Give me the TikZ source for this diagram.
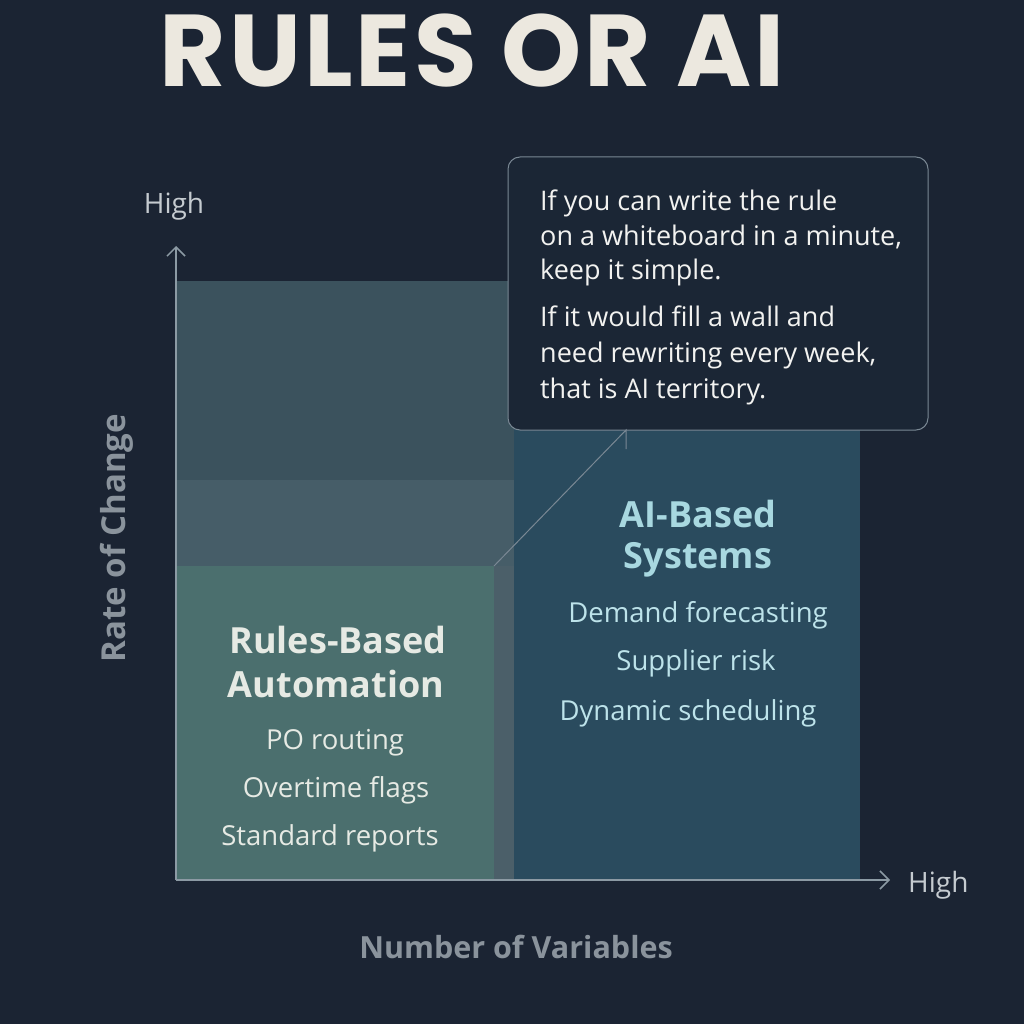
\documentclass[tikz,border=0pt]{standalone}
\usepackage{fontspec}
\setmainfont{Open Sans}
\newfontfamily\titlefont[LetterSpace=3]{Poppins}
\usetikzlibrary{arrows.meta}
\definecolor{bg}{HTML}{1B2433}
\definecolor{titlecol}{HTML}{ECE8DF}
\definecolor{upperc}{HTML}{3B525D}
\definecolor{midc}{HTML}{465D68}
\definecolor{rulesc}{HTML}{4B6F6E}
\definecolor{stripc}{HTML}{4B5F69}
\definecolor{aic}{HTML}{2A4B5E}
\definecolor{calloutfill}{HTML}{1B2635}
\definecolor{calloutdraw}{HTML}{7A8894}
\definecolor{axisc}{HTML}{8C9AA4}
\definecolor{axislab}{HTML}{8A939C}
\definecolor{highc}{HTML}{C5CBD0}
\definecolor{rulestext}{HTML}{E6EAE4}
\definecolor{aihead}{HTML}{A8D8E0}
\definecolor{aitext}{HTML}{BDE3EA}
\definecolor{callouttext}{HTML}{F2F2F0}
\begin{document}
\begin{tikzpicture}[x=1pt,y=-1pt,
  region/.style={inner sep=0pt, outer sep=0pt, anchor=north west},
  axisline/.style={draw=axisc, line width=1.5pt, -{Straight Barb[length=9pt,width=18pt]}},
  conn/.style={draw=calloutdraw, line width=1pt},
  body/.style={font=\fontsize{27.5}{30}\selectfont, inner sep=0pt, anchor=base},
  cbody/.style={font=\fontsize{27}{30}\selectfont, inner sep=0pt, anchor=base west, text=callouttext},
  head/.style={font=\fontsize{36}{40}\selectfont\bfseries, inner sep=0pt, anchor=base},
  axlab/.style={font=\fontsize{30.5}{34}\selectfont\bfseries, inner sep=0pt, text=axislab},
  highlab/.style={font=\fontsize{28}{30}\selectfont, inner sep=0pt, text=highc}
]
\fill[bg] (0,0) rectangle (1024,1024);
\useasboundingbox (0,0) rectangle (1024,1024);

% title
\node[inner sep=0pt, anchor=base, text=titlecol, font=\fontsize{102}{102}\selectfont\titlefont\bfseries] (title) at (472,87) {RULES OR AI};

% regions
\node[region, fill=upperc, minimum width=338pt, minimum height=199pt] (upper) at (176,281) {};
\node[region, fill=midc, minimum width=338pt, minimum height=86pt] (mid) at (176,480) {};
\node[region, fill=stripc, minimum width=20pt, minimum height=314pt] (strip) at (494,566) {};
\node[region, fill=rulesc, minimum width=318pt, minimum height=314pt] (rules) at (176,566) {};
\node[region, fill=aic, minimum width=346pt, minimum height=470pt] (ai) at (514,410) {};

% callout
\node[region, fill=calloutfill, draw=calloutdraw, line width=1pt, rounded corners=12pt, minimum width=420pt, minimum height=273pt] (callout) at (508,157) {};
\coordinate (ctip) at (626,430);
\draw[conn] (rules.north east) -- (ctip) -- ++(0,19);

% axes
\coordinate (origin) at (176,880);
\coordinate (yend) at (176,246);
\coordinate (xend) at (890,880);
\draw[axisline] (origin) -- (yend);
\draw[axisline] (origin) -- (xend);

% axis labels
\node[highlab, anchor=base] (yhigh) at (174,214) {High};
\node[highlab, anchor=base west] (xhigh) at (908,892) {High};
\node[axlab, anchor=base] (xlab) at (516,958) {Number of Variables};
\node[axlab, anchor=base, rotate=90, font=\fontsize{33}{36}\selectfont\bfseries] (ylab) at (125,538) {Rate of Change};

% rules text
\node[head, text=rulestext] (r1) at (338,653) {Rules-Based};
\node[head, text=rulestext] (r2) at (336,697) {Automation};
\node[body, text=rulestext] (r3) at (335,749) {PO routing};
\node[body, text=rulestext] (r4) at (336,797) {Overtime flags};
\node[body, text=rulestext] (r5) at (330,845) {Standard reports};

% AI text
\node[head, text=aihead] (a1) at (698,527) {AI-Based};
\node[head, text=aihead] (a2) at (698,568) {Systems};
\node[body, text=aitext] (a3) at (698,622) {Demand forecasting};
\node[body, text=aitext] (a4) at (696,670) {Supplier risk};
\node[body, text=aitext] (a5) at (688,720) {Dynamic scheduling};

% callout text
\node[cbody] (c1) at (540,211) {If you can write the rule};
\node[cbody] (c2) at (540,245) {on a whiteboard in a minute,};
\node[cbody] (c3) at (540,279) {keep it simple.};
\node[cbody] (c4) at (540,326) {If it would fill a wall and};
\node[cbody] (c5) at (540,362) {need rewriting every week,};
\node[cbody] (c6) at (540,398) {that is AI territory.};
\end{tikzpicture}
\end{document}
